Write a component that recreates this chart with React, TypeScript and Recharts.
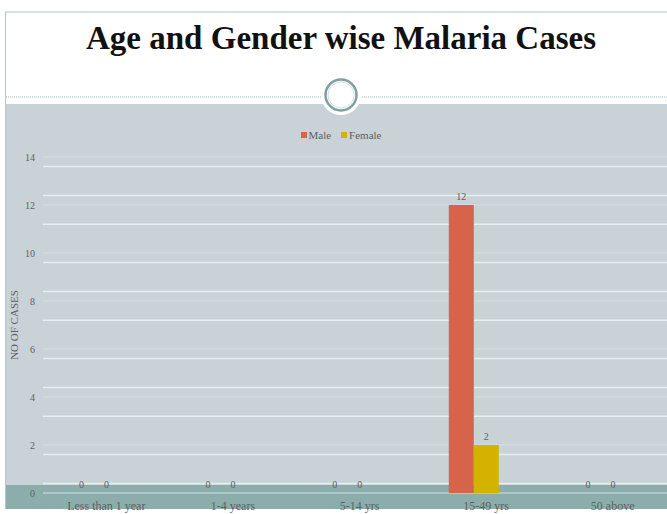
import React from 'react';
import { BarChart, Bar, XAxis, YAxis, CartesianGrid, LabelList } from 'recharts';

const ageGroups = ['Less than 1 year', '1-4 years', '5-14 yrs', '15-49 yrs', '50 above'];
const maleCases = [0, 0, 0, 12, 0];
const femaleCases = [0, 0, 0, 2, 0];
const yTicks = [0, 2, 4, 6, 8, 10, 12, 14];

const MALE = '#d5644a';
const FEMALE = '#d4b300';
const TEXT = '#5f5f5f';
const FONT = '"Liberation Serif", serif';

// the third slot stays empty so each pair sits left of its category label
const data = ageGroups.map((group, i) => ({
  group,
  male: maleCases[i],
  female: femaleCases[i],
  blank: null as number | null,
}));

// fine striping between the labelled ticks
const minorLines: number[] = [];
for (let k = 1; k < 35; k++) {
  if (k % 5 !== 0) minorLines.push(Math.round(k * 0.4 * 10) / 10);
}

const SlideFrame: React.FC = () => (
  <svg width={667} height={514} style={{ position: 'absolute', left: 0, top: 0 }}>
    <rect x={0} y={0} width={667} height={514} fill="#ffffff" />
    <line x1={5} y1={12} x2={667} y2={12} stroke="#c9d4d8" strokeWidth={1.5} />
    <line x1={5.5} y1={12} x2={5.5} y2={509} stroke="#b9c6cb" strokeWidth={1} />
    <rect x={6} y={104} width={661} height={405} fill="#c8d2d7" />
    <rect x={6} y={485} width={661} height={24} fill="#8badab" />
    <line x1={6} y1={97} x2={667} y2={97} stroke="#a8b8be" strokeWidth={1} strokeDasharray="1 1" />
    <circle cx={341} cy={95} r={20} fill="#ffffff" />
    <circle cx={341} cy={95} r={15.5} fill="#ffffff" stroke="#7fa0a1" strokeWidth={2.5} />
    <circle cx={341} cy={95} r={13} fill="none" stroke="#d5e0e0" strokeWidth={1} />
    <text
      x={341}
      y={49}
      textAnchor="middle"
      fontFamily={FONT}
      fontWeight="bold"
      fontSize={33}
      fill="#111111"
    >
      Age and Gender wise Malaria Cases
    </text>
  </svg>
);

const LegendRow: React.FC = () => (
  <div
    style={{
      position: 'absolute',
      left: 0,
      top: 129,
      width: 682,
      display: 'flex',
      justifyContent: 'center',
      gap: 10,
      fontFamily: FONT,
      fontSize: 11,
      color: TEXT,
    }}
  >
    {[
      { name: 'Male', color: MALE },
      { name: 'Female', color: FEMALE },
    ].map((item) => (
      <span key={item.name} style={{ display: 'flex', alignItems: 'center' }}>
        <span style={{ width: 6, height: 6, background: item.color, marginRight: 2 }} />
        {item.name}
      </span>
    ))}
  </div>
);

const App: React.FC = () => {
  return (
    <div style={{ position: 'absolute', left: 0, top: 0, width: 667, height: 514, overflow: 'hidden' }}>
      <SlideFrame />
      <div style={{ position: 'absolute', left: 0, top: 0 }}>
        <BarChart
          width={700}
          height={516}
          data={data}
          margin={{ top: 157, right: 24, bottom: 0, left: 0 }}
          barSize={25}
          barGap={0}
        >
          <CartesianGrid
            vertical={false}
            horizontalValues={minorLines}
            stroke="#e8edf0"
            strokeWidth={1.5}
          />
          <CartesianGrid vertical={false} horizontalValues={yTicks} stroke="#d6dee2" strokeWidth={1} />
          <XAxis
            dataKey="group"
            axisLine={false}
            tickLine={false}
            height={23}
            interval={0}
            tick={{ fill: TEXT, fontSize: 12, fontFamily: FONT }}
          />
          <YAxis
            domain={[0, 14]}
            ticks={yTicks}
            width={43}
            axisLine={false}
            tickLine={false}
            tick={{ fill: TEXT, fontSize: 10, fontFamily: FONT }}
            label={{
              value: 'NO OF CASES',
              angle: -90,
              position: 'insideLeft',
              offset: 14,
              style: { textAnchor: 'middle', fill: TEXT, fontSize: 11, fontFamily: FONT },
            }}
          />
          <Bar dataKey="male" name="Male" fill={MALE} minPointSize={0.01} isAnimationActive={false}>
            <LabelList dataKey="male" position="top" offset={5} fill={TEXT} fontSize={10} fontFamily={FONT} />
          </Bar>
          <Bar dataKey="female" name="Female" fill={FEMALE} minPointSize={0.01} isAnimationActive={false}>
            <LabelList dataKey="female" position="top" offset={5} fill={TEXT} fontSize={10} fontFamily={FONT} />
          </Bar>
          <Bar dataKey="blank" fill="none" legendType="none" isAnimationActive={false} />
        </BarChart>
      </div>
      <LegendRow />
    </div>
  );
};

export default App;
